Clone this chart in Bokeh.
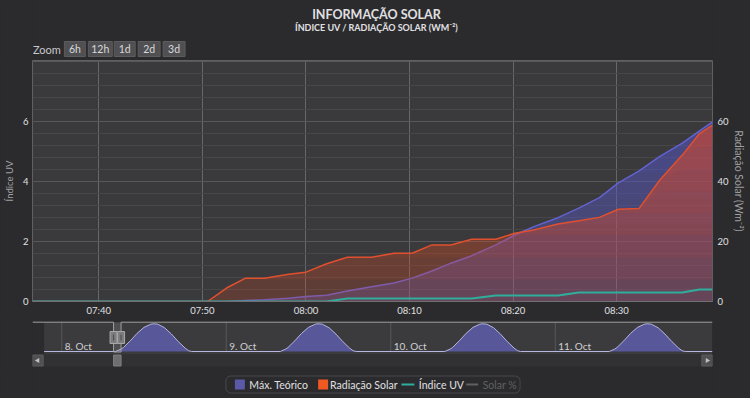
import numpy as np
import pandas as pd
from bokeh.plotting import figure
from bokeh.layouts import column
from bokeh.models import (Range1d, LinearAxis, FixedTicker, SingleIntervalTicker,
                          DatetimeTickFormatter, BoxAnnotation, GlobalInlineStyleSheet)
from bokeh.core.properties import value
from bokeh.embed import file_html
from bokeh.resources import INLINE

# ---------------- data ----------------
day = "2021-10-08"
times = ["07:33:36", "07:36:00", "07:38:00", "07:40:00", "07:42:00", "07:44:00",
         "07:46:00", "07:48:00", "07:50:30", "07:52:20", "07:54:10", "07:56:00",
         "07:58:20", "08:00:00", "08:02:00", "08:04:00", "08:06:20", "08:08:30",
         "08:10:15", "08:12:10", "08:14:00", "08:16:00", "08:18:20", "08:20:10",
         "08:22:00", "08:24:20", "08:26:20", "08:28:20", "08:30:10", "08:32:10",
         "08:34:10", "08:36:20", "08:38:00", "08:39:15"]
radiacao_solar = [0, 0, 0, 0, 0, 0, 0, 0, 0,
                  4.5, 7.8, 7.8, 9.1, 9.8, 12.6, 14.8, 14.8, 16.1, 16.1, 18.9, 18.9,
                  20.8, 20.8, 22.8, 23.9, 25.9, 27.0, 28.1, 30.8, 31.1, 40.6, 48.9,
                  56.1, 58.9]
max_teorico = [0, 0, 0, 0, 0, 0, 0, 0, 0,
               0, 0.3, 0.6, 1.1, 1.7, 2.1, 3.5, 4.9, 6.2, 7.8, 10.2, 12.8,
               15.3, 18.9, 22.2, 25.0, 28.0, 31.2, 34.7, 39.6, 43.6, 48.5, 52.9,
               57.0, 60.0]
indice_uv = [0, 0, 0, 0, 0, 0, 0, 0, 0, 0, 0, 0, 0, 0, 0,
             0.1, 0.1, 0.1, 0.1, 0.1, 0.1, 0.1,
             0.2, 0.2, 0.2, 0.2,
             0.3, 0.3, 0.3, 0.3, 0.3, 0.3,
             0.4, 0.4]

x_tick_labels = ["07:40", "07:50", "08:00", "08:10", "08:20", "08:30"]
uv_ticks = [0, 2, 4, 6]
rad_ticks = [0, 20, 40, 60]
legend_labels = ["Máx. Teórico", "Radiação Solar", "Índice UV", "Solar %"]
zoom_buttons = ["6h", "12h", "1d", "2d", "3d"]

# navigator (Máx. Teórico over several days)
nav_dates = ["2021-10-08", "2021-10-09", "2021-10-10", "2021-10-11"]
nav_profile_times = ["07:53", "08:39", "09:00", "10:00", "11:00", "12:00", "13:00",
                     "13:25", "14:00", "15:00", "16:00", "17:00", "18:00", "18:30", "18:57"]
nav_profile_values = [0, 60, 100, 270, 460, 610, 690, 700, 690, 600, 440, 250, 85, 20, 0]
nav_view_start = "2021-10-07 19:44"
nav_data_start = "2021-10-07 21:26"
nav_view_end = "2021-10-11 22:56"

# ---------------- helpers ----------------
def ms(s):
    return pd.Timestamp(s).value / 1e6

PAGE_BG = "#2b2b2d"
PLOT_BG = "#3a3a3c"
TXT = "#e0e0e3"
FONT = "Lato"
W = 750
BL, BR = 30, 38          # frame spans x = 30 .. 712 in every panel
FL, FR = 30, 712

x = np.array([ms(f"{day} {t}") for t in times])
rad = np.array(radiacao_solar, float)
mxt = np.array(max_teorico, float)
uv = np.array(indice_uv, float)


def gradient_area(fig, xs, ys, color, a_base, a_step, n, **kw):
    top = ys.max()
    fig.varea(x=xs, y1=0, y2=ys, fill_color=color, fill_alpha=a_base, **kw)
    for k in range(1, n):
        lo = top * k / n
        fig.varea(x=xs, y1=np.minimum(ys, lo), y2=ys, fill_color=color,
                  fill_alpha=a_step, **kw)


def blank(fig):
    fig.grid.visible = False
    fig.outline_line_color = None
    fig.background_fill_color = PAGE_BG
    fig.border_fill_color = PAGE_BG


def kill_ticks(ax):
    ax.major_tick_out = 0
    ax.major_tick_in = 0
    ax.minor_tick_out = 0
    ax.minor_tick_in = 0
    ax.major_tick_line_color = None
    ax.minor_tick_line_color = None


# ---------------- header ----------------
hdr = figure(width=W, height=58, x_range=Range1d(FL, FR), y_range=Range1d(58, 0),
             x_axis_location=None, y_axis_location=None, toolbar_location=None,
             output_backend="svg", min_border_left=BL, min_border_right=BR,
             min_border_top=0, min_border_bottom=0)
blank(hdr)
hdr.text(x=[375], y=[13.5], text=["INFORMAÇÃO SOLAR"], text_align="center",
         text_baseline="middle", text_font=value(FONT), text_font_style="bold",
         text_font_size="12.5px", text_color=TXT)
hdr.text(x=[375], y=[26.5], text=["ÍNDICE UV / RADIAÇÃO SOLAR (WM⁻²)"], text_align="center",
         text_baseline="middle", text_font=value(FONT), text_font_style="bold",
         text_font_size="9px", text_color=TXT)
hdr.text(x=[30.5], y=[48.5], text=["Zoom"], text_align="left", text_baseline="middle",
         text_font=value(FONT), text_font_size="11px", text_color="#c8c8cb")
btn_left = [62, 86, 112, 136, 161]
btn_right = [83, 110, 133, 158, 183]
hdr.quad(left=btn_left, right=btn_right, top=41, bottom=56, fill_color="#505053",
         line_color="#5c5c5f")
hdr.text(x=[(a + b) / 2 for a, b in zip(btn_left, btn_right)], y=[48.5] * len(zoom_buttons),
         text=zoom_buttons, text_align="center", text_baseline="middle",
         text_font=value(FONT), text_font_size="10.5px", text_color="#d8d8db")

# ---------------- main chart ----------------
p = figure(width=W, height=260, x_axis_type="datetime",
           x_range=Range1d(x[0], x[-1]), y_range=Range1d(0, 8.05),
           toolbar_location=None, output_backend="svg",
           min_border_left=BL, min_border_right=BR, min_border_top=2, min_border_bottom=16)
p.extra_y_ranges = {"rad": Range1d(0, 80.5)}
p.background_fill_color = PLOT_BG
p.border_fill_color = PAGE_BG
p.outline_line_color = "#606063"

xt = FixedTicker(ticks=[ms(f"{day} {t}") for t in x_tick_labels])
p.xaxis.ticker = xt
p.xgrid.ticker = xt
p.xaxis.formatter = DatetimeTickFormatter(minsec="%H:%M", minutes="%H:%M",
                                          hourmin="%H:%M", hours="%H:%M")
p.xgrid.grid_line_color = "#67676a"
p.xaxis.axis_line_color = "#707073"
kill_ticks(p.xaxis[0])
p.xaxis.major_label_standoff = 3
p.xaxis.major_label_text_font = FONT
p.xaxis.major_label_text_font_size = "9.5px"
p.xaxis.major_label_text_color = TXT

p.yaxis.ticker = FixedTicker(ticks=uv_ticks)
p.ygrid.ticker = SingleIntervalTicker(interval=2, num_minor_ticks=5)
p.ygrid.grid_line_color = "#58585b"
p.ygrid.minor_grid_line_color = "#47474a"
p.yaxis.axis_line_color = None
kill_ticks(p.yaxis[0])
p.yaxis.major_label_standoff = 4
p.yaxis.major_label_text_font = FONT
p.yaxis.major_label_text_font_size = "9.5px"
p.yaxis.major_label_text_color = TXT
p.yaxis.axis_label = "Índice UV"
p.yaxis.axis_label_standoff = 5
p.yaxis.axis_label_text_font = FONT
p.yaxis.axis_label_text_font_size = "9.5px"
p.yaxis.axis_label_text_font_style = "normal"
p.yaxis.axis_label_text_color = "#a0a0a3"

ax_r = LinearAxis(y_range_name="rad", ticker=FixedTicker(ticks=rad_ticks),
                  axis_label="Radiação Solar (Wm⁻²)")
ax_r.axis_line_color = None
kill_ticks(ax_r)
ax_r.major_label_standoff = 5
ax_r.major_label_text_font = FONT
ax_r.major_label_text_font_size = "9.5px"
ax_r.major_label_text_color = TXT
ax_r.axis_label_standoff = 1
ax_r.axis_label_text_font = FONT
ax_r.axis_label_text_font_size = "10.5px"
ax_r.axis_label_text_font_style = "normal"
ax_r.axis_label_text_color = "#a0a0a3"
p.add_layout(ax_r, "right")

BLUE = "#5c5cc4"
RED = "#e2482a"
TEAL = "#2fae9e"
gradient_area(p, x, mxt, BLUE, 0.32, 0.07, 7, y_range_name="rad")
p.line(x, mxt, line_color="#6262d0", line_width=1.5, y_range_name="rad")
gradient_area(p, x, rad, RED, 0.22, 0.08, 8, y_range_name="rad")
p.line(x, rad, line_color="#e0502e", line_width=1.5, y_range_name="rad")
p.line(x, uv, line_color=TEAL, line_width=2)

# ---------------- navigator ----------------
v0, v1 = ms(nav_view_start), ms(nav_view_end)
px2ms = (v1 - v0) / float(FR - FL)
nav = figure(width=W, height=50, x_range=Range1d(v0, v1), y_range=Range1d(368, 318),
             x_axis_location=None, y_axis_location=None, toolbar_location=None,
             output_backend="svg", min_border_left=BL, min_border_right=BR,
             min_border_top=0, min_border_bottom=0)
blank(nav)
k = 740.0 / (351 - 321.7)
nav.extra_y_ranges = {"v": Range1d(-(368 - 351) * k, (351 - 318) * k)}

nav_x = [ms(nav_data_start)]
nav_y = [0.0]
for d in nav_dates:
    for t, v in zip(nav_profile_times, nav_profile_values):
        nav_x.append(ms(f"{d} {t}"))
        nav_y.append(v)
nav_x.append(v1)
nav_y.append(0.0)

day_x = [ms(d) for d in nav_dates]
sel0, sel1 = x[0], x[-1]

nav.quad(left=ms(nav_data_start), right=v1, top=321.7, bottom=354, fill_color="#3b3b3d",
         line_color=None)
nav.segment(x0=day_x, x1=day_x, y0=321.7, y1=351, line_color="#58585b", line_width=1)
nav.varea(x=nav_x, y1=0, y2=nav_y, fill_color="#57579a", fill_alpha=1.0, y_range_name="v")
nav.line(nav_x, nav_y, line_color="#b6b6de", line_width=1, y_range_name="v")
nav.text(x=day_x, y=[351.5] * len(day_x),
         text=[f"{pd.Timestamp(d).day}. {pd.Timestamp(d).strftime('%b')}" for d in nav_dates],
         x_offset=3, text_align="left", text_baseline="bottom", text_font=value(FONT),
         text_font_size="10px", text_color="#d0d0d3")
nav.quad(left=sel0, right=sel1, top=321.7, bottom=351.5, fill_color="#ffffff",
         fill_alpha=0.1, line_color=None)
nav.line([v0, sel0, sel0, sel1, sel1, v1], [321.7, 321.7, 351.5, 351.5, 321.7, 321.7],
         line_color="#a0a0a3", line_width=1)
# scrollbar
nav.quad(left=v0, right=v1, top=354, bottom=366, fill_color="#313134", line_color=None)
nav.quad(left=[v0, v1 - 10.7 * px2ms], right=[v0 + 10.7 * px2ms, v1], top=354.5, bottom=365.5,
         fill_color="#505053", line_color="#5c5c5f")
nav.scatter(x=[v0 + 5.3 * px2ms, v1 - 5.3 * px2ms], y=[360, 360], marker="triangle", size=5,
            angle=[np.pi / 2, -np.pi / 2], fill_color="#c0c0c3", line_color=None)
nav.quad(left=sel0, right=sel1, top=354.5, bottom=365.5, fill_color="#6e6e71",
         line_color="#7e7e81")
# handles
nav.rect(x=[sel0, sel1], y=[337, 337], width=7, height=12, width_units="screen",
         height_units="screen", fill_color="#7c7c7f", line_color="#a8a8ab")
nav.rect(x=[sel0, sel1], y=[337, 337], width=1, height=6, width_units="screen",
         height_units="screen", fill_color="#4a4a4d", line_color=None)

# ---------------- legend ----------------
lg = figure(width=W, height=29, x_range=Range1d(FL, FR), y_range=Range1d(397, 368),
            x_axis_location=None, y_axis_location=None, toolbar_location=None,
            output_backend="svg", min_border_left=BL, min_border_right=BR,
            min_border_top=0, min_border_bottom=0)
blank(lg)
lg.add_layout(BoxAnnotation(left=224, right=519, top=375.5, bottom=392.5, fill_color=None,
                            line_color="#8a8a8d", line_width=1, border_radius=5))
lg.rect(x=[238, 321.5], y=[384, 384], width=10, height=10,
        fill_color=["#5a5aa8", "#f05a22"], line_color=None)
lg.segment(x0=[400, 465], x1=[413, 477], y0=[384, 384], y1=[384, 384],
           line_color=[TEAL, "#606063"], line_width=2)
lg.text(x=[247.5, 328.5, 417.5, 481.5], y=[384] * 4, text=legend_labels,
        text_align="left", text_baseline="middle", text_font=value(FONT),
        text_font_size="10.5px", text_color=[TXT, TXT, TXT, "#606063"])

layout = column(hdr, p, nav, lg, spacing=0)
layout.stylesheets = [GlobalInlineStyleSheet(
    css="html, body { margin: 0; padding: 0; background-color: #2b2b2d; }")]

open("out.html", "w").write(file_html(layout, INLINE))
